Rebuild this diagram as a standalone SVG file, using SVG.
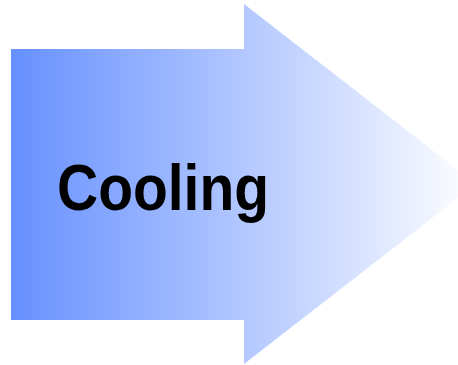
<svg xmlns="http://www.w3.org/2000/svg" width="458" height="365" viewBox="0 0 458 365">
  <defs>
    <linearGradient id="fillGrad" gradientUnits="userSpaceOnUse" x1="11" y1="0" x2="476" y2="0">
      <stop offset="0" stop-color="#6690ff"/>
      <stop offset="1" stop-color="#ffffff"/>
    </linearGradient>
    <style>
      .label { font-family: "Liberation Sans", Arial, sans-serif; font-weight: bold; fill: #000000; }
    </style>
  </defs>
  <rect width="458" height="365" fill="#ffffff"/>
  <g id="arrow">
    <polygon points="11,49 244,49 244,4 476,184 244,364 244,320 11,320" fill="url(#fillGrad)"/>
    <text class="label" x="57" y="210" font-size="64" textLength="212" lengthAdjust="spacingAndGlyphs">Cooling</text>
  </g>
</svg>
